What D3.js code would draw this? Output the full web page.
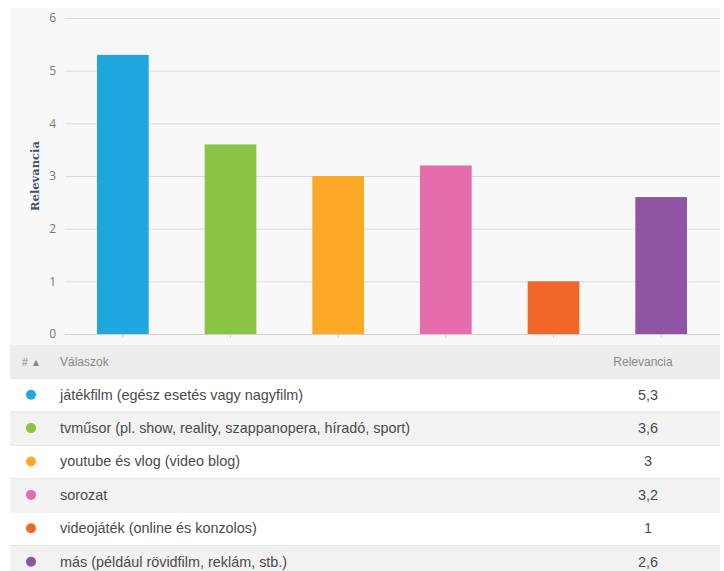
<!DOCTYPE html>
<html><head><meta charset="utf-8">
<script src="https://cdn.jsdelivr.net/npm/d3@7"></script>
<style>
body{margin:0;background:#fff;}
svg{display:block;font-family:"Liberation Sans",Arial,sans-serif;}
</style></head><body>
<svg id="c" width="724" height="571"></svg>
<script>
const categories = ["játékfilm (egész esetés vagy nagyfilm)","tvműsor (pl. show, reality, szappanopera, híradó, sport)","youtube és vlog (video blog)","sorozat","videojáték (online és konzolos)","más (például rövidfilm, reklám, stb.)"];
const values = [5.3, 3.6, 3, 3.2, 1, 2.6];
const valueLabels = ["5,3","3,6","3","3,2","1","2,6"];
const colors = ["#1fa7df","#89c444","#fba927","#e66dac","#f1672a","#8f55a4"];
const yTicks = [0,1,2,3,4,5,6];

const svg = d3.select("#c");
// chart panel
svg.append("rect").attr("x",10).attr("y",8).attr("width",710).attr("height",337).attr("fill","#f8f8f8");

const y = d3.scaleLinear().domain([0,6]).range([334,18]);
const x = d3.scaleBand().domain(d3.range(categories.length)).range([69,715]).paddingInner(0.52).paddingOuter(0.26);

// gridlines
svg.append("g").selectAll("line").data(yTicks).join("line")
  .attr("x1",65).attr("x2",720).attr("y1",d=>y(d)+0.5).attr("y2",d=>y(d)+0.5)
  .attr("stroke",d=>d===0?"#cfcfcf":"#dcdcdc").attr("stroke-width",1);

// y labels
const yAxis = d3.axisLeft(y).tickValues(yTicks).tickFormat(d3.format("d")).tickSize(0).tickPadding(0);
const ga = svg.append("g").attr("transform","translate(56,0)").call(yAxis);
ga.select(".domain").remove();
ga.selectAll("text").attr("fill","#777").attr("font-size",12).attr("font-family","'Open Sans',sans-serif");

// x ticks
svg.append("g").selectAll("line").data(d3.range(categories.length)).join("line")
  .attr("x1",i=>x(i)+x.bandwidth()/2).attr("x2",i=>x(i)+x.bandwidth()/2)
  .attr("y1",334).attr("y2",338).attr("stroke","#cfcfcf");

// bars
svg.append("g").selectAll("rect").data(values).join("rect")
  .attr("x",(d,i)=>x(i)).attr("width",x.bandwidth())
  .attr("y",d=>y(d)).attr("height",d=>y(0)-y(d))
  .attr("fill",(d,i)=>colors[i]);

// y title
svg.append("text").attr("transform","translate(39,176) rotate(-90)")
  .attr("text-anchor","middle").attr("font-size",11.5).attr("font-weight","bold")
  .attr("font-family","'DejaVu Serif',serif").attr("fill","#3f5270").text("Relevancia");

// table
const headY = 345, headH = 33, rowY0 = 378, rowH = 33.4;
svg.append("rect").attr("x",10).attr("y",headY).attr("width",710).attr("height",headH).attr("fill","#ededed");
svg.append("text").attr("x",22).attr("y",366).attr("font-size",10.5).attr("fill","#888").text("# \u25B2");
svg.append("text").attr("x",60).attr("y",366).attr("font-size",12).attr("fill","#888").text("Válaszok");
svg.append("text").attr("x",643).attr("y",366).attr("font-size",12).attr("fill","#888").attr("text-anchor","middle").text("Relevancia");

const rows = svg.append("g").selectAll("g").data(categories).join("g")
  .attr("transform",(d,i)=>`translate(0,${rowY0+i*rowH})`);
rows.append("rect").attr("x",10).attr("width",710).attr("height",rowH)
  .attr("fill",(d,i)=>i%2?"#f2f2f2":"#ffffff");
rows.append("line").attr("x1",10).attr("x2",720).attr("y1",0.5).attr("y2",0.5).attr("stroke","#e6e6e6");
rows.append("circle").attr("cx",31).attr("cy",rowH/2).attr("r",5).attr("fill",(d,i)=>colors[i]);
rows.append("text").attr("x",60).attr("y",rowH/2+5).attr("font-size",14.4).attr("fill","#4a4a4a").text(d=>d);
rows.append("text").attr("x",648).attr("y",rowH/2+5).attr("font-size",14.4).attr("fill","#4a4a4a")
  .attr("text-anchor","middle").text((d,i)=>valueLabels[i]);
</script>
</body></html>
